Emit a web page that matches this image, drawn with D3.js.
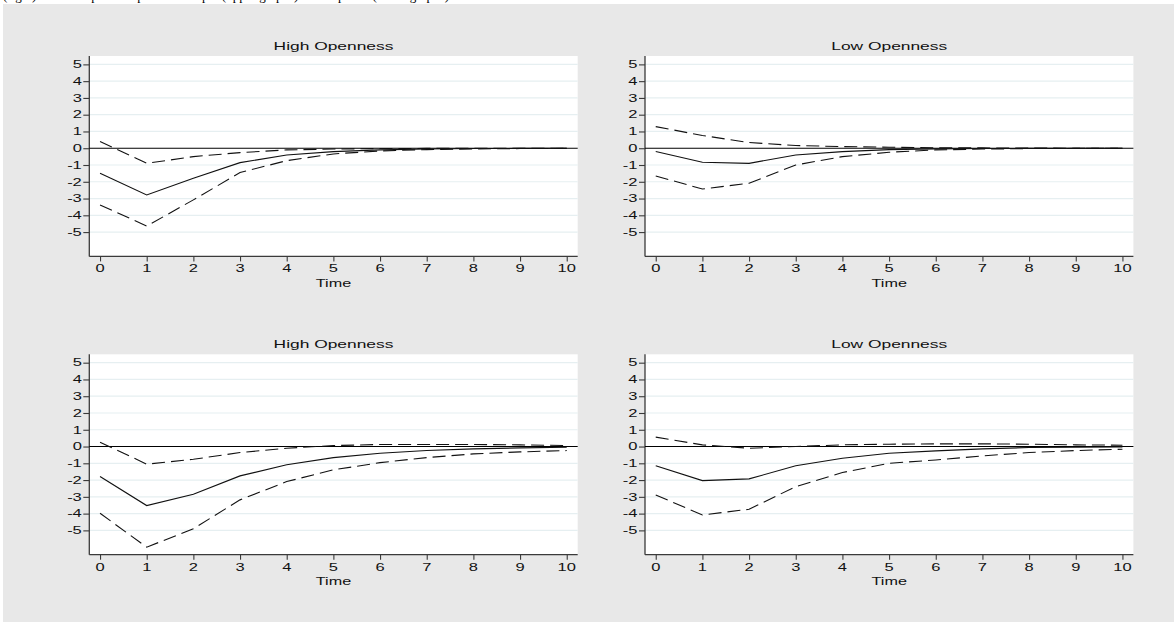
<!DOCTYPE html>
<html>
<head>
<meta charset="utf-8">
<script src="https://cdn.jsdelivr.net/npm/d3@7"></script>
<style>
  body { margin: 0; background: #fff; }
  svg { display: block; }
</style>
</head>
<body>
<div id="chart"></div>
<script>
// impulse responses, horizon 0..10
const horizon = [0, 1, 2, 3, 4, 5, 6, 7, 8, 9, 10];
const yTicks = [-5, -4, -3, -2, -1, 0, 1, 2, 3, 4, 5];

// upper row
const highTopIrf = [-1.49, -2.79, -1.79, -0.86, -0.40, -0.20, -0.10, -0.05, -0.02, -0.01, 0];
const highTopLo  = [-3.38, -4.64, -3.08, -1.45, -0.74, -0.34, -0.16, -0.08, -0.04, -0.02, -0.01];
const highTopHi  = [0.40, -0.90, -0.50, -0.26, -0.10, -0.05, -0.02, -0.01, 0, 0, 0];

const lowTopIrf = [-0.20, -0.84, -0.90, -0.40, -0.20, -0.08, -0.04, -0.02, -0.01, 0, 0];
const lowTopLo  = [-1.65, -2.43, -2.09, -1.00, -0.50, -0.24, -0.10, -0.05, -0.02, -0.01, 0];
const lowTopHi  = [1.29, 0.76, 0.34, 0.16, 0.10, 0.06, 0.03, 0.02, 0.01, 0, 0];

// lower row
const highBotIrf = [-1.79, -3.52, -2.85, -1.75, -1.09, -0.66, -0.40, -0.24, -0.14, -0.08, -0.04];
const highBotLo  = [-3.98, -6.00, -4.90, -3.18, -2.09, -1.39, -0.96, -0.66, -0.44, -0.32, -0.24];
const highBotHi  = [0.26, -1.05, -0.76, -0.36, -0.10, 0.06, 0.12, 0.12, 0.12, 0.10, 0.06];

const lowBotIrf = [-1.15, -2.03, -1.93, -1.15, -0.70, -0.40, -0.26, -0.14, -0.06, -0.04, -0.02];
const lowBotLo  = [-2.89, -4.08, -3.74, -2.39, -1.55, -1.00, -0.80, -0.56, -0.36, -0.24, -0.16];
const lowBotHi  = [0.56, 0.10, -0.10, 0.00, 0.10, 0.14, 0.16, 0.16, 0.14, 0.10, 0.08];

const panelTitles = ["High Openness", "Low Openness", "High Openness", "Low Openness"];

const W = 1174, H = 622;
const font = "'Liberation Sans', Arial, Helvetica, sans-serif";
const stretch = 1.5;   // the source picture is widened, so is the text

const svg = d3.select("#chart").append("svg")
    .attr("width", W)
    .attr("height", H);

svg.append("rect")
    .attr("x", 3).attr("y", 4)
    .attr("width", W - 3).attr("height", H - 4)
    .attr("fill", "#e8e8e8");

// caption line, mostly above the top edge of the picture
svg.append("text")
    .attr("x", 3).attr("y", -0.3)
    .attr("textLength", 446)
    .attr("lengthAdjust", "spacingAndGlyphs")
    .style("font-family", "'Liberation Serif', 'Times New Roman', serif")
    .style("font-size", "12px")
    .text("(right) for the impulse response of output (upper graphs) and of prices (lower graphs)");

const panels = [
    {left: 89.3, top: 56,    irf: highTopIrf, lo: highTopLo, hi: highTopHi},
    {left: 645,  top: 56,    irf: lowTopIrf,  lo: lowTopLo,  hi: lowTopHi},
    {left: 89.3, top: 354.3, irf: highBotIrf, lo: highBotLo, hi: highBotHi},
    {left: 645,  top: 354.3, irf: lowBotIrf,  lo: lowBotLo,  hi: lowBotHi}
];
const pw = 488.4, ph = 200.4;

function stretchedText(g, x, y, str, size, anchor) {
    g.append("text")
        .attr("transform", `translate(${x},${y}) scale(${stretch},1)`)
        .attr("text-anchor", anchor)
        .style("font-family", font)
        .style("font-size", size + "px")
        .style("fill", "#111")
        .text(str);
}

panels.forEach((p, i) => {
    const x = d3.scaleLinear().domain([-0.23, 10.235]).range([0, pw]);
    const y = d3.scaleLinear().domain([-6.45, 5.5]).range([ph, 0]);

    const g = svg.append("g").attr("transform", `translate(${p.left},${p.top})`);

    g.append("rect")
        .attr("width", pw).attr("height", ph)
        .attr("fill", "#fff");

    // grid
    g.append("g")
        .selectAll("line")
        .data(yTicks.filter(d => d !== 0))
        .join("line")
            .attr("x1", 0).attr("x2", pw)
            .attr("y1", d => y(d)).attr("y2", d => y(d))
            .attr("stroke", "#e6eff1")
            .attr("stroke-width", 1.2);

    // axes (lines and ticks only, labels below)
    const yAxis = g.append("g")
        .call(d3.axisLeft(y).tickValues(yTicks).tickSize(6).tickFormat(""));
    const xAxis = g.append("g")
        .attr("transform", `translate(0,${ph})`)
        .call(d3.axisBottom(x).tickValues(horizon).tickSize(5).tickFormat(""));
    [yAxis, xAxis].forEach(a => {
        a.select(".domain").attr("stroke", "#3a3a3a").attr("stroke-width", 1.3);
        a.selectAll(".tick line").attr("stroke", "#3a3a3a").attr("stroke-width", 1.1);
    });
    // the axis domain path has end caps; redraw as plain lines
    yAxis.select(".domain").attr("d", `M0,0V${ph}`);
    xAxis.select(".domain").attr("d", `M0,0H${pw}`);

    yTicks.forEach(t => stretchedText(g, -7.5, y(t) + 3.8, String(t), 11, "end"));
    horizon.forEach(t => stretchedText(g, x(t), ph + 15.8, String(t), 11, "middle"));
    stretchedText(g, pw / 2, ph + 30.5, "Time", 10.8, "middle");
    stretchedText(g, pw / 2, -6.5, panelTitles[i], 11.6, "middle");

    // zero line
    g.append("line")
        .attr("x1", 0).attr("x2", pw)
        .attr("y1", y(0)).attr("y2", y(0))
        .attr("stroke", "#000")
        .attr("stroke-width", 1.1);

    const line = d3.line()
        .x((d, k) => x(horizon[k]))
        .y(d => y(d));

    [p.lo, p.hi].forEach(s => {
        g.append("path")
            .datum(s)
            .attr("d", line)
            .attr("fill", "none")
            .attr("stroke", "#111")
            .attr("stroke-width", 1.1)
            .attr("stroke-dasharray", "13,6");
    });
    g.append("path")
        .datum(p.irf)
        .attr("d", line)
        .attr("fill", "none")
        .attr("stroke", "#111")
        .attr("stroke-width", 1.1);
});
</script>
</body>
</html>
